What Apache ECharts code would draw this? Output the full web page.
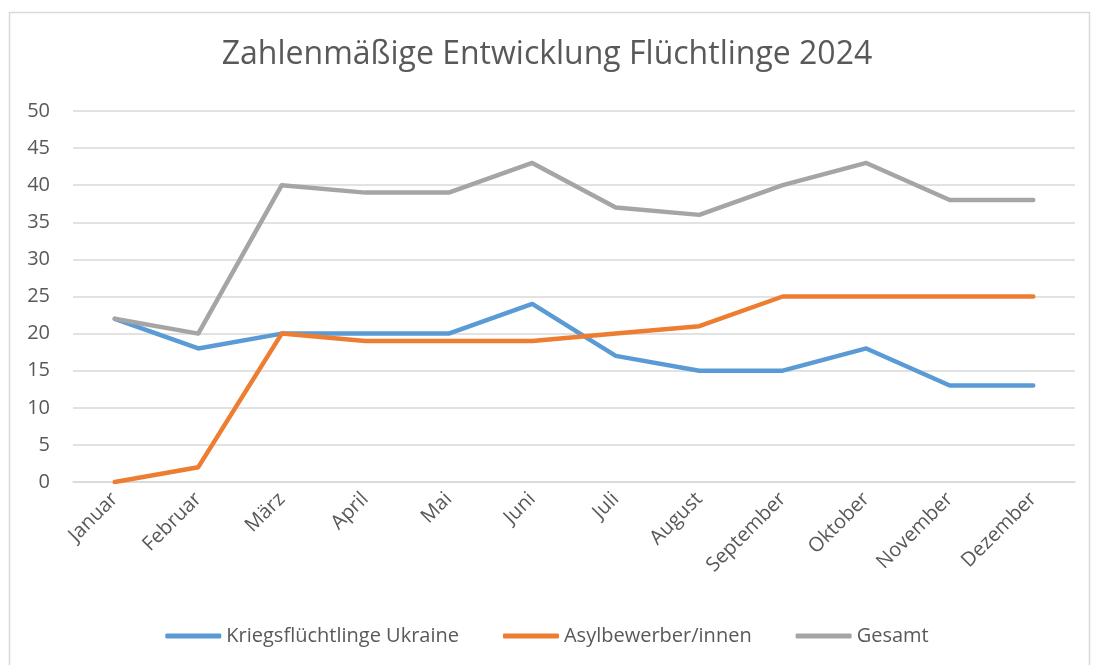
<!DOCTYPE html>
<html>
<head>
<meta charset="utf-8">
<script src="https://cdn.jsdelivr.net/npm/echarts@6/dist/echarts.min.js"></script>
<style>
  html, body { margin: 0; padding: 0; background: #fff; }
  #chart { width: 1094px; height: 665px; }
</style>
</head>
<body>
<div id="chart"></div>
<script>
const months = ['Januar', 'Februar', 'März', 'April', 'Mai', 'Juni', 'Juli', 'August', 'September', 'Oktober', 'November', 'Dezember'];
const ukraine = [22, 18, 20, 20, 20, 24, 17, 15, 15, 18, 13, 13];
const asyl = [0, 2, 20, 19, 19, 19, 20, 21, 25, 25, 25, 25];
const gesamt = [22, 20, 40, 39, 39, 43, 37, 36, 40, 43, 38, 38];

const textColor = '#595959';
const font = '"Open Sans", "Liberation Sans", sans-serif';

const line = (name, data, color) => ({
  name,
  type: 'line',
  data,
  symbol: 'none',
  color,
  lineStyle: { width: 4.5, color, cap: 'round', join: 'round' },
});

const chart = echarts.init(document.getElementById('chart'));
chart.setOption({
  animation: false,
  textStyle: { fontFamily: font, color: textColor },
  graphic: [{
    type: 'rect',
    shape: { x: 9.5, y: 12.5, width: 1080, height: 680 },
    style: { fill: 'none', stroke: '#d9d9d9', lineWidth: 1.5 },
  }],
  title: {
    text: 'Zahlenmäßige Entwicklung Flüchtlinge 2024',
    left: 'center',
    top: 34,
    textStyle: { fontFamily: font, fontSize: 32, fontWeight: 'normal', color: textColor },
  },
  legend: {
    top: 621,
    left: 'center',
    itemWidth: 56,
    itemHeight: 5,
    itemGap: 44,
    itemTextGap: 2,
    icon: 'roundRect',
    textStyle: { fontFamily: font, fontSize: 20, color: textColor },
    data: ['Kriegsflüchtlinge Ukraine', 'Asylbewerber/innen', 'Gesamt'],
  },
  grid: { left: 73, right: 19, top: 111, bottom: 183 },
  xAxis: {
    type: 'category',
    data: months,
    boundaryGap: true,
    axisTick: { show: false },
    axisLine: { lineStyle: { color: '#d9d9d9', width: 1.5 } },
    axisLabel: { rotate: 45, fontSize: 20, color: textColor, margin: 14, fontFamily: font },
  },
  yAxis: {
    type: 'value',
    min: 0,
    max: 50,
    interval: 5,
    axisLine: { show: false },
    axisTick: { show: false },
    splitLine: { lineStyle: { color: '#d9d9d9', width: 1.5 } },
    axisLabel: { fontSize: 20, color: textColor, margin: 23, fontFamily: font },
  },
  series: [
    line('Kriegsflüchtlinge Ukraine', ukraine, '#5B9BD5'),
    line('Asylbewerber/innen', asyl, '#ED7D31'),
    line('Gesamt', gesamt, '#A5A5A5'),
  ],
});
</script>
</body>
</html>
